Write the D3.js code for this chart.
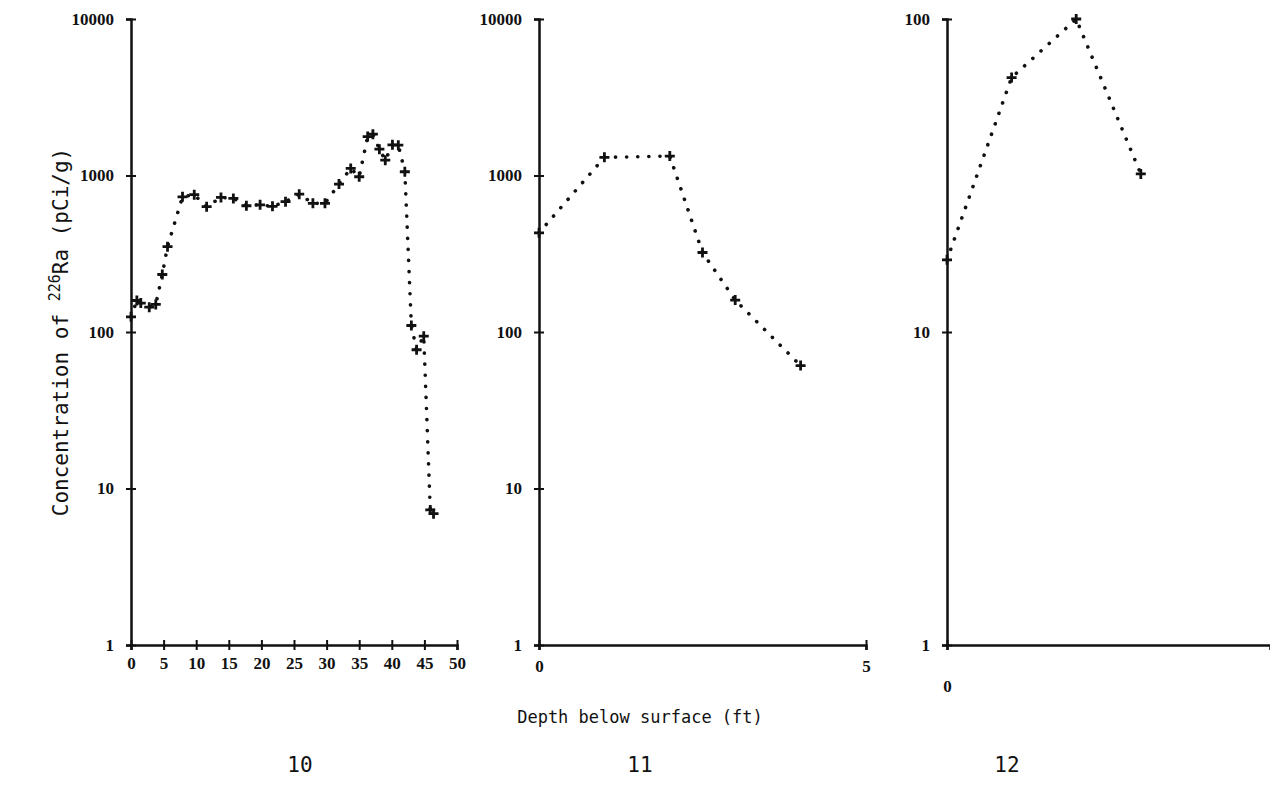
<!DOCTYPE html>
<html>
<head>
<meta charset="utf-8">
<script src="https://cdn.jsdelivr.net/npm/d3@7"></script>
<style>
  body { margin: 0; background: #fff; }
  .tick text { font-family: "Liberation Serif", serif; font-weight: bold; font-size: 17px; fill: #111; }
  .title { font-family: "DejaVu Sans Mono", monospace; fill: #111; }
</style>
</head>
<body>
<svg id="chart" width="1270" height="799"></svg>
<script>
// Borehole 10
var depth10 = [0, 0.9, 1.5, 2.8, 3.8, 4.8, 5.6, 7.9, 9.7, 11.6, 13.8, 15.7, 17.7, 19.8, 21.7, 23.7,
    25.8, 27.9, 29.75, 31.9, 33.7, 35.0, 36.3, 37.1, 38.1, 39.0, 40.1, 41.0, 42.0, 43.0, 43.8, 44.9, 45.9, 46.4];
var conc10 = [125, 159, 153, 144, 150, 233, 351, 731, 754, 632, 724, 714, 641, 650, 635, 680,
    760, 664, 664, 881, 1109, 982, 1774, 1836, 1472, 1253, 1570, 1563, 1057, 110, 77, 94, 7.3, 6.9];

// Borehole 11
var depth11 = [0, 1.0, 2.0, 2.5, 3.0, 4.0];
var conc11 = [430, 1306, 1330, 322, 160, 61];

// Borehole 12
var depth12 = [0, 1.0, 2.0, 3.0];
var conc12 = [17, 65, 100, 32];

var xTicks10 = [0, 5, 10, 15, 20, 25, 30, 35, 40, 45, 50];
var xTicks11 = [0, 5];
var xTicks12 = [0];
var yTicksBig = [1, 10, 100, 1000, 10000];
var yTicksSmall = [1, 10, 100];

var svg = d3.select("#chart");

var panels = [
    {depth: depth10, conc: conc10, x0: 131, x1: 457, xmax: 50, ymax: 10000, xt: xTicks10, yt: yTicksBig, xlabY: 19, name: "10", nameX: 300},
    {depth: depth11, conc: conc11, x0: 539, x1: 866, xmax: 5, ymax: 10000, xt: xTicks11, yt: yTicksBig, xlabY: 22, name: "11", nameX: 640},
    {depth: depth12, conc: conc12, x0: 947, x1: 1270, xmax: 5, ymax: 100, xt: xTicks12, yt: yTicksSmall, xlabY: 42, name: "12", nameX: 1007}
];

var plotTop = 19, plotBottom = 645;

panels.forEach(function (p) {
    var x = d3.scaleLinear().domain([0, p.xmax]).range([p.x0, p.x1]);
    var y = d3.scaleLog().domain([1, p.ymax]).range([plotBottom, plotTop]);

    var g = svg.append("g");

    // y axis
    var ya = g.append("g")
        .attr("transform", "translate(" + p.x0 + ",0)")
        .call(d3.axisLeft(y).tickValues(p.yt).tickSize(5).tickPadding(12).tickFormat(d3.format("d")));
    ya.select(".domain").attr("stroke-width", 2.5).attr("stroke", "#111");
    ya.selectAll(".tick line").attr("x1", 5).attr("stroke-width", 2).attr("stroke", "#111");

    // x axis
    var xa = g.append("g")
        .attr("transform", "translate(0," + plotBottom + ")")
        .call(d3.axisBottom(x).tickValues(p.xt).tickSize(5).tickPadding(p.xlabY - 12).tickFormat(d3.format("d")));
    xa.select(".domain").attr("stroke-width", 2.5).attr("stroke", "#111");
    xa.selectAll(".tick line").attr("y1", -5).attr("stroke-width", 2).attr("stroke", "#111");

    var pts = p.depth.map(function (d, i) { return [d, p.conc[i]]; });

    // dotted line
    g.append("path")
        .datum(pts)
        .attr("fill", "none")
        .attr("stroke", "#111")
        .attr("stroke-width", 3.6)
        .attr("stroke-linecap", "round")
        .attr("stroke-dasharray", "0.1,11")
        .attr("d", d3.line().x(function (d) { return x(d[0]); }).y(function (d) { return y(d[1]); }));

    // data crosses
    g.selectAll(".pt")
        .data(pts)
        .enter().append("path")
        .attr("class", "pt")
        .attr("transform", function (d) { return "translate(" + x(d[0]) + "," + y(d[1]) + ")"; })
        .attr("d", "M-5,0H5M0,-5V5")
        .attr("stroke", "#111")
        .attr("stroke-width", 2.8);

    svg.append("text")
        .attr("class", "title")
        .attr("x", p.nameX)
        .attr("y", 772)
        .attr("text-anchor", "middle")
        .style("font-size", "21px")
        .text(p.name);
});

svg.append("text")
    .attr("class", "title")
    .attr("x", 640)
    .attr("y", 723)
    .attr("text-anchor", "middle")
    .style("font-size", "17px")
    .text("Depth below surface (ft)");

var yt = svg.append("text")
    .attr("class", "title")
    .attr("transform", "translate(68,332) rotate(-90)")
    .attr("text-anchor", "middle")
    .style("font-size", "21px");
yt.append("tspan").text("Concentration of ");
yt.append("tspan").attr("dy", -8).style("font-size", "15px").text("226");
yt.append("tspan").attr("dy", 8).text("Ra (pCi/g)");
</script>
</body>
</html>
